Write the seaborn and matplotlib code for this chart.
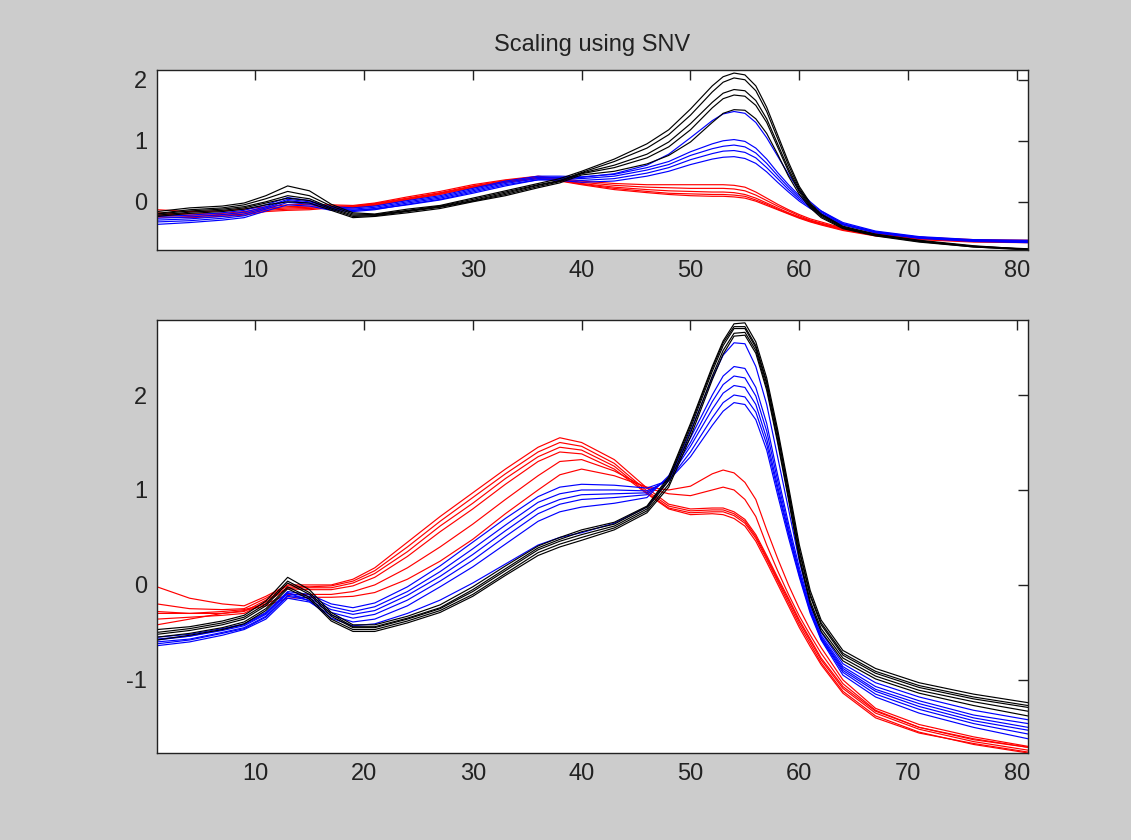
import matplotlib
matplotlib.use("Agg")
import matplotlib.pyplot as plt
import numpy as np
import pandas as pd
import seaborn as sns

# ---------------- data ----------------
X = [1, 4, 7, 9, 11, 13, 15, 17, 19, 21,
     24, 27, 30, 33, 36, 38, 40, 43, 46, 48,
     50, 52, 53, 54, 55, 56, 57, 58, 59, 60,
     61, 62, 64, 67, 71, 76, 81]

X_TICKS = [10, 20, 30, 40, 50, 60, 70, 80]
TOP_Y_TICKS = [0, 1, 2]
BOTTOM_Y_TICKS = [-1, 0, 1, 2]
TITLE = "Scaling using SNV"

# bottom panel
bottom_red = [
    [-0.02, -0.14, -0.20, -0.22, -0.12, 0.00, 0.00, 0.00, 0.06, 0.18,
     0.45, 0.72, 0.97, 1.22, 1.45, 1.55, 1.50, 1.32, 1.02, 0.85,
     0.80, 0.81, 0.81, 0.77, 0.69, 0.53, 0.31, 0.08, -0.14, -0.37,
     -0.57, -0.77, -1.07, -1.33, -1.50, -1.63, -1.71],
    [-0.20, -0.25, -0.26, -0.25, -0.14, -0.01, -0.02, -0.01, 0.04, 0.15,
     0.40, 0.67, 0.92, 1.17, 1.40, 1.50, 1.46, 1.28, 0.99, 0.83,
     0.78, 0.79, 0.79, 0.75, 0.67, 0.51, 0.29, 0.06, -0.16, -0.39,
     -0.59, -0.79, -1.09, -1.35, -1.52, -1.65, -1.74],
    [-0.28, -0.30, -0.30, -0.28, -0.16, -0.03, -0.03, -0.03, 0.02, 0.12,
     0.35, 0.62, 0.86, 1.12, 1.35, 1.45, 1.42, 1.25, 0.97, 0.81,
     0.76, 0.77, 0.77, 0.73, 0.65, 0.49, 0.27, 0.04, -0.19, -0.42,
     -0.62, -0.82, -1.12, -1.38, -1.55, -1.68, -1.77],
    [-0.36, -0.34, -0.32, -0.30, -0.18, -0.04, -0.05, -0.05, -0.01, 0.08,
     0.30, 0.56, 0.80, 1.06, 1.30, 1.40, 1.38, 1.22, 0.96, 0.80,
     0.74, 0.75, 0.74, 0.70, 0.62, 0.46, 0.24, 0.01, -0.22, -0.45,
     -0.65, -0.84, -1.14, -1.40, -1.56, -1.67, -1.76],
    [-0.30, -0.30, -0.28, -0.26, -0.20, -0.10, -0.10, -0.10, -0.07, 0.00,
     0.18, 0.40, 0.64, 0.90, 1.15, 1.30, 1.32, 1.20, 1.02, 0.96,
     0.94, 1.00, 1.03, 1.00, 0.90, 0.72, 0.42, 0.15, -0.10, -0.33,
     -0.53, -0.72, -1.04, -1.32, -1.50, -1.62, -1.71],
    [-0.42, -0.36, -0.30, -0.27, -0.22, -0.14, -0.13, -0.13, -0.12, -0.08,
     0.06, 0.25, 0.48, 0.75, 1.00, 1.16, 1.22, 1.15, 1.03, 1.00,
     1.04, 1.17, 1.21, 1.18, 1.08, 0.90, 0.58, 0.28, 0.00, -0.25,
     -0.47, -0.66, -1.00, -1.30, -1.47, -1.60, -1.70],
]

bottom_blue = [
    [-0.55, -0.52, -0.46, -0.41, -0.29, -0.07, -0.10, -0.20, -0.24, -0.19,
     -0.02, 0.20, 0.45, 0.70, 0.93, 1.03, 1.06, 1.05, 1.02, 1.10,
     1.35, 1.68, 1.83, 1.92, 1.90, 1.74, 1.42, 0.95, 0.50, 0.08,
     -0.30, -0.58, -0.95, -1.18, -1.35, -1.50, -1.62],
    [-0.57, -0.54, -0.48, -0.43, -0.31, -0.09, -0.12, -0.23, -0.28, -0.23,
     -0.07, 0.14, 0.38, 0.63, 0.87, 0.96, 1.00, 1.00, 0.99, 1.10,
     1.40, 1.76, 1.92, 2.00, 1.98, 1.82, 1.48, 1.00, 0.54, 0.10,
     -0.28, -0.57, -0.92, -1.15, -1.31, -1.46, -1.57],
    [-0.60, -0.57, -0.50, -0.45, -0.33, -0.11, -0.14, -0.26, -0.31, -0.27,
     -0.11, 0.09, 0.32, 0.57, 0.81, 0.90, 0.95, 0.96, 0.97, 1.12,
     1.46, 1.85, 2.02, 2.10, 2.08, 1.90, 1.54, 1.04, 0.56, 0.12,
     -0.27, -0.56, -0.90, -1.12, -1.28, -1.43, -1.53],
    [-0.62, -0.58, -0.51, -0.46, -0.34, -0.12, -0.16, -0.29, -0.35, -0.31,
     -0.16, 0.04, 0.26, 0.51, 0.75, 0.85, 0.90, 0.92, 0.95, 1.13,
     1.50, 1.93, 2.11, 2.20, 2.18, 1.99, 1.62, 1.10, 0.60, 0.14,
     -0.26, -0.55, -0.88, -1.10, -1.25, -1.40, -1.50],
    [-0.64, -0.60, -0.53, -0.47, -0.36, -0.14, -0.18, -0.32, -0.39, -0.36,
     -0.22, -0.02, 0.19, 0.43, 0.67, 0.77, 0.82, 0.86, 0.92, 1.15,
     1.55, 2.00, 2.20, 2.30, 2.28, 2.08, 1.70, 1.16, 0.65, 0.18,
     -0.23, -0.53, -0.86, -1.07, -1.22, -1.37, -1.46],
    [-0.58, -0.54, -0.47, -0.42, -0.30, -0.08, -0.17, -0.35, -0.43, -0.41,
     -0.30, -0.16, 0.02, 0.22, 0.42, 0.50, 0.55, 0.65, 0.82, 1.10,
     1.62, 2.18, 2.42, 2.55, 2.54, 2.30, 1.90, 1.35, 0.80, 0.25,
     -0.20, -0.50, -0.83, -1.03, -1.18, -1.32, -1.42],
]

bottom_black = [
    [-0.47, -0.44, -0.38, -0.32, -0.17, 0.08, -0.05, -0.29, -0.42, -0.42,
     -0.33, -0.21, -0.02, 0.20, 0.41, 0.50, 0.58, 0.66, 0.83, 1.14,
     1.70, 2.30, 2.57, 2.75, 2.76, 2.56, 2.18, 1.64, 1.04, 0.42,
     -0.06, -0.37, -0.69, -0.88, -1.03, -1.15, -1.24],
    [-0.52, -0.48, -0.42, -0.36, -0.22, 0.02, -0.10, -0.33, -0.45, -0.45,
     -0.36, -0.25, -0.07, 0.15, 0.37, 0.46, 0.53, 0.62, 0.80, 1.10,
     1.65, 2.25, 2.52, 2.70, 2.70, 2.50, 2.12, 1.58, 0.98, 0.35,
     -0.12, -0.42, -0.74, -0.93, -1.08, -1.20, -1.29],
    [-0.55, -0.51, -0.45, -0.39, -0.25, -0.02, -0.13, -0.36, -0.47, -0.47,
     -0.38, -0.27, -0.10, 0.12, 0.34, 0.43, 0.50, 0.60, 0.78, 1.06,
     1.60, 2.20, 2.47, 2.65, 2.66, 2.47, 2.08, 1.53, 0.93, 0.30,
     -0.17, -0.46, -0.77, -0.96, -1.11, -1.23, -1.33],
    [-0.50, -0.46, -0.40, -0.34, -0.20, 0.04, -0.08, -0.31, -0.44, -0.44,
     -0.35, -0.24, -0.05, 0.17, 0.39, 0.48, 0.56, 0.64, 0.82, 1.12,
     1.68, 2.28, 2.55, 2.72, 2.72, 2.52, 2.14, 1.60, 1.00, 0.37,
     -0.10, -0.40, -0.72, -0.91, -1.06, -1.18, -1.27],
    [-0.58, -0.53, -0.47, -0.41, -0.27, -0.04, -0.15, -0.38, -0.49, -0.49,
     -0.40, -0.29, -0.12, 0.10, 0.31, 0.40, 0.47, 0.58, 0.76, 1.03,
     1.56, 2.16, 2.43, 2.62, 2.63, 2.44, 2.05, 1.50, 0.90, 0.27,
     -0.20, -0.49, -0.80, -0.99, -1.14, -1.27, -1.38],
]

# top panel
top_red = [
    [-0.13, -0.16, -0.15, -0.12, -0.08, -0.05, -0.04, -0.05, -0.06, -0.02,
     0.08, 0.17, 0.28, 0.36, 0.42, 0.38, 0.34, 0.30, 0.28, 0.28,
     0.28, 0.28, 0.28, 0.27, 0.24, 0.16, 0.06, -0.04, -0.13, -0.21,
     -0.28, -0.33, -0.43, -0.52, -0.58, -0.62, -0.63],
    [-0.18, -0.20, -0.19, -0.16, -0.10, -0.08, -0.07, -0.07, -0.07, -0.03,
     0.06, 0.15, 0.26, 0.35, 0.41, 0.37, 0.32, 0.27, 0.24, 0.23,
     0.22, 0.22, 0.22, 0.21, 0.18, 0.11, 0.02, -0.07, -0.15, -0.23,
     -0.30, -0.35, -0.44, -0.53, -0.59, -0.63, -0.64],
    [-0.20, -0.22, -0.21, -0.18, -0.12, -0.10, -0.09, -0.08, -0.08, -0.04,
     0.05, 0.14, 0.25, 0.34, 0.40, 0.36, 0.30, 0.24, 0.20, 0.18,
     0.17, 0.16, 0.16, 0.15, 0.12, 0.06, -0.02, -0.10, -0.18, -0.25,
     -0.31, -0.36, -0.45, -0.54, -0.60, -0.64, -0.65],
    [-0.22, -0.24, -0.22, -0.20, -0.14, -0.12, -0.11, -0.09, -0.09, -0.05,
     0.04, 0.13, 0.24, 0.33, 0.39, 0.35, 0.29, 0.22, 0.17, 0.14,
     0.13, 0.12, 0.12, 0.11, 0.09, 0.03, -0.04, -0.12, -0.19, -0.26,
     -0.32, -0.37, -0.46, -0.55, -0.61, -0.65, -0.66],
    [-0.25, -0.26, -0.24, -0.22, -0.16, -0.14, -0.13, -0.10, -0.10, -0.06,
     0.03, 0.12, 0.23, 0.32, 0.38, 0.34, 0.28, 0.20, 0.15, 0.12,
     0.10, 0.09, 0.09, 0.08, 0.06, 0.01, -0.06, -0.13, -0.20, -0.27,
     -0.33, -0.38, -0.47, -0.56, -0.62, -0.66, -0.67],
]

top_blue = [
    [-0.24, -0.22, -0.18, -0.14, -0.05, 0.07, 0.02, -0.10, -0.14, -0.12,
     -0.05, 0.03, 0.14, 0.26, 0.36, 0.38, 0.40, 0.46, 0.60, 0.78,
     1.05, 1.33, 1.44, 1.48, 1.45, 1.30, 1.05, 0.75, 0.45, 0.18,
     0.00, -0.15, -0.36, -0.50, -0.58, -0.63, -0.65],
    [-0.27, -0.25, -0.21, -0.17, -0.08, 0.04, 0.00, -0.08, -0.10, -0.07,
     0.02, 0.10, 0.22, 0.34, 0.42, 0.42, 0.41, 0.45, 0.56, 0.66,
     0.82, 0.95, 1.00, 1.02, 0.99, 0.88, 0.70, 0.48, 0.28, 0.10,
     -0.04, -0.15, -0.34, -0.48, -0.57, -0.62, -0.63],
    [-0.30, -0.28, -0.24, -0.20, -0.10, 0.02, -0.02, -0.10, -0.12, -0.09,
     0.00, 0.08, 0.20, 0.32, 0.40, 0.40, 0.38, 0.42, 0.52, 0.61,
     0.76, 0.87, 0.91, 0.93, 0.90, 0.80, 0.63, 0.43, 0.24, 0.07,
     -0.07, -0.17, -0.36, -0.49, -0.58, -0.63, -0.64],
    [-0.33, -0.31, -0.27, -0.23, -0.12, -0.01, -0.04, -0.12, -0.14, -0.11,
     -0.02, 0.06, 0.18, 0.30, 0.38, 0.37, 0.35, 0.38, 0.47, 0.56,
     0.69, 0.79, 0.83, 0.84, 0.81, 0.72, 0.56, 0.38, 0.20, 0.04,
     -0.09, -0.19, -0.37, -0.50, -0.59, -0.64, -0.66],
    [-0.37, -0.34, -0.30, -0.26, -0.15, -0.05, -0.07, -0.14, -0.16, -0.13,
     -0.04, 0.04, 0.16, 0.28, 0.36, 0.35, 0.32, 0.34, 0.42, 0.50,
     0.61, 0.70, 0.73, 0.74, 0.71, 0.63, 0.49, 0.32, 0.16, 0.01,
     -0.11, -0.21, -0.38, -0.51, -0.60, -0.65, -0.67],
]

top_black = [
    [-0.16, -0.10, -0.07, -0.02, 0.10, 0.26, 0.18, -0.04, -0.18, -0.20,
     -0.12, -0.06, 0.06, 0.18, 0.30, 0.38, 0.50, 0.70, 0.95, 1.18,
     1.52, 1.90, 2.05, 2.11, 2.08, 1.90, 1.55, 1.10, 0.65, 0.25,
     -0.02, -0.20, -0.40, -0.53, -0.63, -0.72, -0.78],
    [-0.19, -0.13, -0.10, -0.05, 0.05, 0.17, 0.10, -0.07, -0.20, -0.21,
     -0.14, -0.07, 0.04, 0.16, 0.28, 0.35, 0.48, 0.66, 0.88, 1.10,
     1.42, 1.80, 1.96, 2.03, 2.00, 1.82, 1.48, 1.04, 0.60, 0.22,
     -0.04, -0.21, -0.41, -0.54, -0.64, -0.73, -0.78],
    [-0.20, -0.15, -0.12, -0.08, 0.00, 0.10, 0.05, -0.10, -0.22, -0.22,
     -0.15, -0.08, 0.02, 0.14, 0.27, 0.34, 0.47, 0.60, 0.78, 0.98,
     1.28, 1.63, 1.78, 1.84, 1.82, 1.66, 1.36, 0.95, 0.54, 0.19,
     -0.06, -0.22, -0.42, -0.54, -0.64, -0.73, -0.77],
    [-0.22, -0.17, -0.14, -0.10, -0.02, 0.06, 0.02, -0.12, -0.24, -0.23,
     -0.16, -0.09, 0.01, 0.12, 0.25, 0.33, 0.46, 0.56, 0.72, 0.90,
     1.18, 1.54, 1.69, 1.75, 1.73, 1.58, 1.30, 0.90, 0.50, 0.16,
     -0.08, -0.24, -0.43, -0.55, -0.65, -0.74, -0.78],
    [-0.24, -0.19, -0.16, -0.12, -0.05, 0.00, -0.02, -0.14, -0.26, -0.24,
     -0.18, -0.11, 0.00, 0.10, 0.23, 0.31, 0.44, 0.50, 0.62, 0.76,
     0.98, 1.30, 1.45, 1.51, 1.50, 1.36, 1.12, 0.78, 0.42, 0.12,
     -0.10, -0.26, -0.44, -0.56, -0.66, -0.74, -0.79],
]


def long_frame(groups):
    rows = []
    for color, lines in groups.items():
        for i, vals in enumerate(lines):
            assert len(vals) == len(X), (color, i, len(vals))
            for xv, yv in zip(X, vals):
                rows.append({"x": xv, "y": yv, "group": color, "line": f"{color}{i}"})
    return pd.DataFrame(rows)


df_top = long_frame({"red": top_red, "blue": top_blue, "black": top_black})
df_bot = long_frame({"red": bottom_red, "blue": bottom_blue, "black": bottom_black})

palette = {"red": "#ff0000", "blue": "#0000ff", "black": "#000000"}
hue_order = ["red", "blue", "black"]

sns.set_style("white")
plt.rcParams["font.family"] = ["Liberation Sans", "DejaVu Sans"]
plt.rcParams["axes.unicode_minus"] = False

W, H = 1131, 840
fig = plt.figure(figsize=(W / 100, H / 100), dpi=100, facecolor="#cccccc")
ax1 = fig.add_axes([157 / W, 1 - 250 / H, (1028 - 157) / W, (250 - 70) / H])
ax2 = fig.add_axes([157 / W, 1 - 753 / H, (1028 - 157) / W, (753 - 320) / H])

for ax, df in ((ax1, df_top), (ax2, df_bot)):
    sns.lineplot(data=df, x="x", y="y", hue="group", units="line",
                 estimator=None, palette=palette, hue_order=hue_order,
                 legend=False, linewidth=0.85, ax=ax)
    ax.set_xlim(1, 81)
    ax.set_xticks(X_TICKS)
    ax.set_xlabel("")
    ax.set_ylabel("")
    ax.set_facecolor("white")
    ax.tick_params(direction="in", top=True, right=True, length=7, width=1,
                   labelsize=17, pad=7, colors="#222222")
    for sp in ax.spines.values():
        sp.set_visible(True)
        sp.set_color("#222222")
        sp.set_linewidth(1.0)

ax1.set_ylim(-0.79, 2.16)
ax1.set_yticks(TOP_Y_TICKS)
ax2.set_ylim(-1.77, 2.79)
ax2.set_yticks(BOTTOM_Y_TICKS)

ax1.set_title(TITLE, fontsize=17, pad=14, color="#222222")

fig.savefig("out.png", dpi=100, facecolor=fig.get_facecolor())
